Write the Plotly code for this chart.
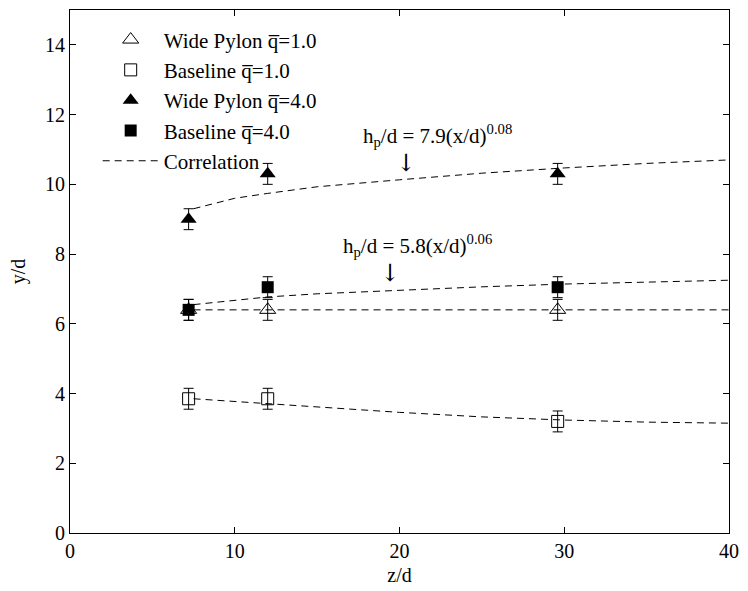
import plotly.graph_objects as go

# ---- data ----
z_pts = [7.2, 12.0, 29.6]
wide_q1 = [6.4, 6.4, 6.4]
base_q1 = [3.85, 3.85, 3.2]
wide_q4 = [9.0, 10.3, 10.3]
base_q4 = [6.4, 7.05, 7.05]
err = [0.3, 0.3, 0.3]

corr_x = [7.5, 10, 12, 15, 20, 25, 30, 35, 40]
corr_wide_q4 = [9.3, 9.6, 9.74, 9.93, 10.13, 10.32, 10.47, 10.6, 10.7]
corr_base_q4 = [6.55, 6.68, 6.77, 6.86, 6.97, 7.06, 7.14, 7.2, 7.25]
corr_wide_q1 = [6.4, 6.4, 6.4, 6.4, 6.4, 6.4, 6.4, 6.4, 6.4]
corr_base_q1 = [3.85, 3.77, 3.7, 3.6, 3.46, 3.33, 3.24, 3.18, 3.15]

FONT = "Liberation Serif, 'Times New Roman', serif"
fig = go.Figure()

def err_y():
    return dict(type="data", array=err, visible=True, color="black", thickness=1, width=5)

fig.add_trace(go.Scatter(x=z_pts, y=wide_q1, mode="markers", name="Wide Pylon q\u0305=1.0",
                         marker=dict(symbol="triangle-up-open", size=14, color="black", line=dict(width=1, color="black")),
                         error_y=err_y()))
fig.add_trace(go.Scatter(x=z_pts, y=base_q1, mode="markers", name="Baseline q\u0305=1.0",
                         marker=dict(symbol="square-open", size=12, color="black", line=dict(width=1, color="black")),
                         error_y=err_y()))
fig.add_trace(go.Scatter(x=z_pts, y=wide_q4, mode="markers", name="Wide Pylon q\u0305=4.0",
                         marker=dict(symbol="triangle-up", size=14, color="black"),
                         error_y=err_y()))
fig.add_trace(go.Scatter(x=z_pts, y=base_q4, mode="markers", name="Baseline q\u0305=4.0",
                         marker=dict(symbol="square", size=12, color="black"),
                         error_y=err_y()))

dash = dict(color="black", width=1, dash="7px,5px")
for i, yy in enumerate([corr_wide_q4, corr_base_q4, corr_wide_q1, corr_base_q1]):
    fig.add_trace(go.Scatter(x=corr_x, y=yy, mode="lines", line=dash,
                             name="Correlation", showlegend=(i == 0)))

ann_font = dict(family=FONT, size=21, color="black")
arrow_font = dict(family="DejaVu Serif", size=24, color="black")
fig.add_annotation(x=22.3, y=11.4, text="h<sub>p</sub>/d = 7.9(x/d)<sup>0.08</sup>", showarrow=False, font=ann_font)
fig.add_annotation(x=20.4, y=10.6, text="\u2193", showarrow=False, font=arrow_font)
fig.add_annotation(x=21.1, y=8.25, text="h<sub>p</sub>/d = 5.8(x/d)<sup>0.06</sup>", showarrow=False, font=ann_font)
fig.add_annotation(x=19.4, y=7.45, text="\u2193", showarrow=False, font=arrow_font)

axis_common = dict(showgrid=False, zeroline=False, showline=True, linecolor="black", linewidth=1,
                   mirror="ticks", ticks="inside", ticklen=6, tickcolor="black",
                   tickfont=dict(family=FONT, size=20, color="black"))
fig.update_xaxes(range=[0, 40], tickvals=[0, 10, 20, 30, 40],
                 title=dict(text="z/d", font=dict(family=FONT, size=20, color="black"), standoff=6),
                 **axis_common)
fig.update_yaxes(range=[0, 15], tickvals=[0, 2, 4, 6, 8, 10, 12, 14],
                 title=dict(text="y/d", font=dict(family=FONT, size=20, color="black"), standoff=14),
                 **axis_common)

fig.update_layout(width=748, height=591, plot_bgcolor="white", paper_bgcolor="white",
                  margin=dict(l=70, r=11, t=9, b=56),
                  font=dict(family=FONT, size=20, color="black"),
                  legend=dict(x=0.042, y=0.982, xanchor="left", yanchor="top", bgcolor="rgba(0,0,0,0)",
                              font=dict(family=FONT, size=21, color="black"), tracegroupgap=0,
                              itemwidth=56))

fig.write_html("out.html", config={"displayModeBar": False},
               post_script="document.body.style.margin='0';")
